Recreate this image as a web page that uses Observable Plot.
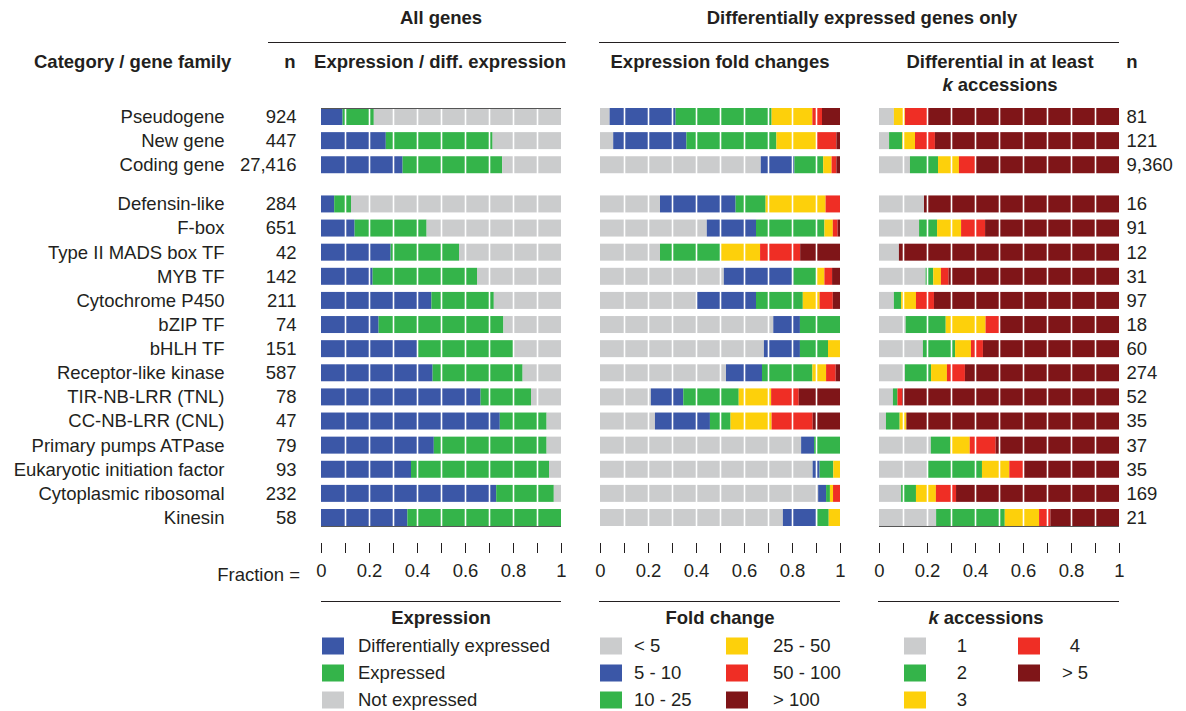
<!DOCTYPE html>
<html><head><meta charset="utf-8">
<script src="https://cdn.jsdelivr.net/npm/d3@7"></script>
<script src="https://cdn.jsdelivr.net/npm/@observablehq/plot@0.6"></script>
<style>
body{margin:0;background:#fff;font-family:"Liberation Sans",Arial,Helvetica,sans-serif;color:#231f20;}
#wrap{position:relative;width:1186px;height:711px;overflow:hidden;}
#chart{position:absolute;left:0;top:0;}
.t{position:absolute;font-size:18.5px;white-space:nowrap;line-height:1;}
.b{font-weight:bold;}
.c{transform:translate(-50%,-50%);}
.l{transform:translate(0,-50%);}
.r{transform:translate(-100%,-50%);}
.hr{position:absolute;height:0;border-top:1.2px solid #231f20;}
.sw{position:absolute;width:22px;height:17px;transform:translate(0,-50%);}
</style>
</head><body>
<div id="wrap"><div id="chart"></div></div>
<script>
// ---------- data ----------
const categories = ["Pseudogene","New gene","Coding gene","Defensin-like","F-box","Type II MADS box TF","MYB TF","Cytochrome P450","bZIP TF","bHLH TF","Receptor-like kinase","TIR-NB-LRR (TNL)","CC-NB-LRR (CNL)","Primary pumps ATPase","Eukaryotic initiation factor","Cytoplasmic ribosomal","Kinesin"];
const rowGroup = [0,0,0,1,1,1,1,1,1,1,1,1,1,1,1,1,1];
const nAll  = [924,447,27416,284,651,42,142,211,74,151,587,78,47,79,93,232,58];
const nDiff = [81,121,9360,16,91,12,31,97,18,60,274,52,35,37,35,169,21];

const expressionClasses = ["Differentially expressed","Expressed","Not expressed"];
const expressionColors  = ["#3b57a7","#34b44a","#cbcccd"];
const expression = [
  [0.09,0.13,0.78],[0.27,0.445,0.285],[0.34,0.415,0.245],
  [0.055,0.07,0.875],[0.14,0.30,0.56],[0.29,0.285,0.425],[0.215,0.435,0.35],
  [0.46,0.26,0.28],[0.24,0.52,0.24],[0.40,0.40,0.20],[0.465,0.375,0.16],
  [0.665,0.21,0.125],[0.745,0.195,0.06],[0.47,0.47,0.06],[0.375,0.575,0.05],
  [0.73,0.24,0.03],[0.36,0.64,0]
];

const foldClasses = ["< 5","5 - 10","10 - 25","25 - 50","50 - 100","> 100"];
const foldColors  = ["#cbcccd","#3b57a7","#34b44a","#fdd00b","#ef2e25","#7f1518"];
const foldChange = [
  [0.04,0.275,0.40,0.17,0.04,0.075],
  [0.055,0.305,0.375,0.165,0.085,0.015],
  [0.67,0.14,0.12,0.035,0.02,0.015],
  [0.25,0.315,0.125,0.25,0.06,0],
  [0.445,0.205,0.285,0.035,0.02,0.01],
  [0.25,0,0.25,0.167,0.167,0.166],
  [0.516,0.29,0.097,0.032,0.032,0.033],
  [0.40,0.25,0.195,0.07,0.055,0.03],
  [0.722,0.111,0.167,0,0,0],
  [0.683,0.15,0.117,0.05,0,0],
  [0.525,0.15,0.21,0.057,0.04,0.018],
  [0.212,0.135,0.231,0.135,0.115,0.172],
  [0.229,0.229,0.086,0.171,0.171,0.114],
  [0.838,0.054,0.108,0,0,0],
  [0.886,0.029,0.057,0.028,0,0],
  [0.909,0.033,0.016,0.013,0.029,0],
  [0.762,0.143,0.048,0.047,0,0]
];

const accessionClasses = ["1","2","3","4","> 5"];
const accessionColors  = ["#cbcccd","#34b44a","#fdd00b","#ef2e25","#7f1518"];
const accessions = [
  [0.062,0,0.046,0.092,0.80],
  [0.042,0.054,0.054,0.083,0.767],
  [0.129,0.117,0.087,0.067,0.60],
  [0.1875,0,0,0,0.8125],
  [0.167,0.075,0.10,0.10,0.558],
  [0.083,0,0,0,0.917],
  [0.194,0.032,0.032,0.032,0.71],
  [0.062,0.03,0.062,0.075,0.771],
  [0.111,0.167,0.166,0.056,0.50],
  [0.183,0.134,0.066,0.05,0.567],
  [0.108,0.109,0.066,0.075,0.642],
  [0.058,0.019,0,0.019,0.904],
  [0.029,0.057,0.028,0,0.886],
  [0.216,0.081,0.081,0.108,0.514],
  [0.20,0.229,0.114,0.057,0.40],
  [0.092,0.062,0.083,0.084,0.679],
  [0.238,0.286,0.143,0.047,0.286]
];

const axisTicks = [0,0.1,0.2,0.3,0.4,0.5,0.6,0.7,0.8,0.9,1];
const axisTickLabels = ["0","","0.2","","0.4","","0.6","","0.8","","1"];
const gridTicks = [0.1,0.2,0.3,0.4,0.5,0.6,0.7,0.8,0.9];

// ---------- build tables ----------
const GAP = 0.625, HALF = 0.352;
const rowPos = categories.map((c,i) => i + rowGroup[i]*GAP);
const lastRow = rowPos[rowPos.length-1];

function segments(panel, values, classes) {
  const out = [];
  values.forEach((row,i) => {
    let c = 0;
    row.forEach((v,j) => {
      if (v > 0) out.push({panel, y: rowPos[i], x1: c, x2: c + v, key: panel + "|" + classes[j]});
      c += v;
    });
  });
  return out;
}
const segs = [
  ...segments("p1", expression, expressionClasses),
  ...segments("p2", foldChange, foldClasses),
  ...segments("p3", accessions, accessionClasses)
];
const colorDomain = [
  ...expressionClasses.map(c => "p1|" + c),
  ...foldClasses.map(c => "p2|" + c),
  ...accessionClasses.map(c => "p3|" + c)
];
const colorRange = [...expressionColors, ...foldColors, ...accessionColors];

const fmt = d3.format(",");
const leftRows = categories.map((c,i) => ({panel:"p1", y: rowPos[i], name: c, n: fmt(nAll[i])}));
const rightRows = categories.map((c,i) => ({panel:"p3", y: rowPos[i], n: fmt(nDiff[i])}));
const borders = [
  {panel:"p1", y: rowPos[0] - HALF},
  {panel:"p1", y: lastRow + HALF},
  {panel:"p3", y: lastRow + HALF}
];

const ink = "#231f20";
const FS = 18.5;
const chart = Plot.plot({
  width: 1186,
  height: 590,
  marginLeft: 321,
  marginRight: 67,
  marginTop: 100,
  marginBottom: 47,
  style: {fontFamily: '"Liberation Sans", Arial, sans-serif', fontSize: FS + "px", color: ink, background: "white"},
  fx: {domain: ["p1","p2","p3"], paddingInner: 0.14, paddingOuter: 0, axis: null, label: null},
  x: {domain: [0,1], label: null},
  y: {domain: [0, lastRow], range: [116.5, 517.5], axis: null},
  color: {domain: colorDomain, range: colorRange},
  marks: [
    Plot.rect(segs, {fx: "panel", x1: "x1", x2: "x2", y1: d => d.y - HALF, y2: d => d.y + HALF, fill: "key"}),
    Plot.ruleX(gridTicks, {stroke: "white", strokeWidth: 1.6}),
    Plot.ruleY(borders, {fx: "panel", y: "y", x1: 0, x2: 1, stroke: "#555", strokeWidth: 1}),
    Plot.text(leftRows, {fx: "panel", x: 0, y: "y", text: "name", dx: -97, textAnchor: "end", fontSize: FS, fill: ink}),
    Plot.text(leftRows, {fx: "panel", x: 0, y: "y", text: "n", dx: -25, textAnchor: "end", fontSize: FS, fill: ink}),
    Plot.text(rightRows, {fx: "panel", x: 1, y: "y", text: "n", dx: 7, textAnchor: "start", fontSize: FS, fill: ink}),
    Plot.axisX({ticks: axisTicks, tickFormat: (d,i) => axisTickLabels[i], tickSize: 10, tickPadding: 10, fontSize: FS, stroke: ink, fill: ink, label: null})
  ]
});
document.getElementById("chart").appendChild(chart);

// ---------- headers & legend (HTML) ----------
const wrap = document.getElementById("wrap");
function txt(s, x, y, cls, html) {
  const d = document.createElement("div");
  d.className = "t " + cls;
  d.style.left = x + "px"; d.style.top = y + "px";
  if (html) d.innerHTML = s; else d.textContent = s;
  wrap.appendChild(d);
}
function hr(x1, x2, y) {
  const d = document.createElement("div");
  d.className = "hr";
  d.style.left = x1 + "px"; d.style.width = (x2 - x1) + "px"; d.style.top = y + "px";
  wrap.appendChild(d);
}
function sw(color, x, y) {
  const d = document.createElement("div");
  d.className = "sw";
  d.style.left = x + "px"; d.style.top = y + "px"; d.style.background = color;
  wrap.appendChild(d);
}
txt("All genes", 441, 18, "b c");
txt("Differentially expressed genes only", 862, 18, "b c");
hr(268, 566, 42); hr(599, 1119, 42);
txt("Category / gene family", 34, 62, "b l");
txt("n", 290, 62, "b c");
txt("Expression / diff. expression", 440, 62, "b c");
txt("Expression fold changes", 720, 62, "b c");
txt("Differential in at least", 1000, 62, "b c");
txt("<i>k</i> accessions", 1000, 85, "b c", true);
txt("n", 1132, 62, "b c");
txt("Fraction =", 300, 575, "r");

hr(321, 561, 601); hr(599, 840, 601); hr(878, 1119, 601);
txt("Expression", 441, 618, "b c");
txt("Fold change", 720, 618, "b c");
txt("<i>k</i> accessions", 986, 618, "b c", true);
const rowsY = [646, 673, 700];
expressionClasses.forEach((c,i) => { sw(expressionColors[i], 322, rowsY[i]); txt(c, 358, rowsY[i], "l"); });
foldClasses.forEach((c,i) => {
  const col = Math.floor(i/3), r = i % 3;
  sw(foldColors[i], col ? 726 : 600, rowsY[r]);
  txt(c, col ? 773 : 634, rowsY[r], "l");
});
accessionClasses.forEach((c,i) => {
  const col = i < 3 ? 0 : 1, r = i < 3 ? i : i - 3;
  sw(accessionColors[i], col ? 1018 : 904, rowsY[r]);
  txt(c, col ? 1075 : 962, rowsY[r], "c");
});
</script>
</body></html>
